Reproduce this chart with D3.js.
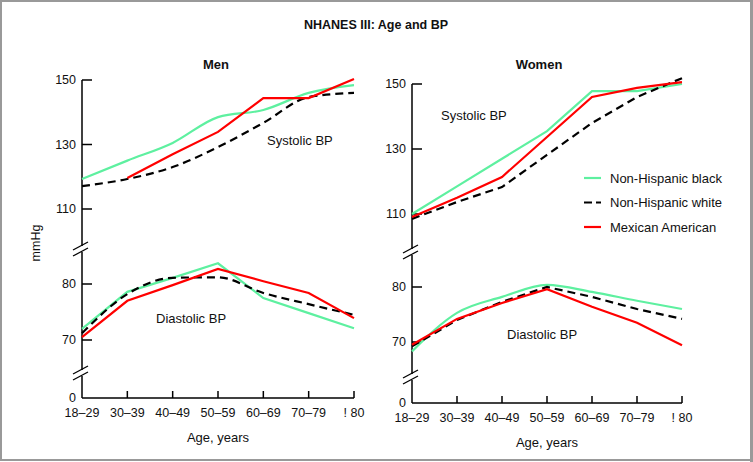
<!DOCTYPE html>
<html><head><meta charset="utf-8">
<script src="https://cdn.jsdelivr.net/npm/d3@7"></script>
<style>
html,body{margin:0;padding:0;background:#fff;}
svg{display:block;font-family:"Liberation Sans",Arial,sans-serif;}
</style></head>
<body>
<svg id="c" width="753" height="462"></svg>
<script>
// ---- data ----
const categories = ["18\u201329","30\u201339","40\u201349","50\u201359","60\u201369","70\u201379","! 80"];
const seriesNames = ["Non-Hispanic black","Non-Hispanic white","Mexican American"];

const menSysBlack = [119.3,125.0,130.5,138.5,140.7,146.0,148.4];
const menSysWhite = [117.1,119.3,123.0,129.2,136.7,144.7,146.0];
const menSysMex   = [null,119.6,127.0,133.9,144.4,144.4,150.3];
const menDiaBlack = [72.0,78.6,81.1,83.7,77.5,74.8,72.1];
const menDiaWhite = [71.2,78.2,81.1,81.2,78.4,76.4,74.5];
const menDiaMex   = [70.5,77.0,79.8,82.7,80.5,78.4,73.9];

const womenSysBlack = [110.0,118.5,127.0,135.5,147.8,147.8,150.0];
const womenSysWhite = [108.5,113.7,118.3,128.2,138.0,146.0,151.8];
const womenSysMex   = [109.1,115.0,121.4,133.7,146.0,148.8,150.6];
const womenDiaBlack = [68.3,75.3,78.2,80.4,79.1,77.5,76.0];
const womenDiaWhite = [69.2,74.0,77.3,80.0,78.2,76.0,74.2];
const womenDiaMex   = [69.5,74.2,77.1,79.6,76.4,73.5,69.4];

const sysTicks = [110,130,150];
const diaTicks = [70,80];

// ---- drawing ----
const svg = d3.select("#c");
const colors = ["#5ef0a0","#000000","#ff0000"];
const dashes = [null,"8,5",null];
const textColor = "#111";

svg.append("rect").attr("x",1).attr("y",1).attr("width",750).attr("height",459)
  .attr("fill","#fff").attr("stroke","#999").attr("stroke-width",2);
svg.append("rect").attr("x",750).attr("y",0).attr("width",3).attr("height",462).attr("fill","#999");

svg.append("text").attr("x",376).attr("y",29).attr("text-anchor","middle")
  .attr("font-weight","bold").attr("font-size",12.5).attr("fill",textColor).text("NHANES III: Age and BP");

svg.append("text").attr("transform","translate(40,243) rotate(-90)").attr("text-anchor","middle")
  .attr("font-size",12.5).attr("fill",textColor).text("mmHg");

const panels = [
  {title:"Men", x0:82, x1:354, sysTop:80, sysBot:209, diaTop:284, diaBot:340, zeroY:398,
   breaks:[249,373], titleX:216,
   sys:[menSysBlack,menSysWhite,menSysMex], dia:[menDiaBlack,menDiaWhite,menDiaMex],
   sysCurves:[d3.curveMonotoneX,d3.curveMonotoneX,d3.curveLinear],
   diaCurves:[d3.curveLinear,d3.curveMonotoneX,d3.curveLinear],
   sysLabel:[267,145], diaLabel:[156,323]},
  {title:"Women", x0:412, x1:682, sysTop:84, sysBot:214, diaTop:287, diaBot:342, zeroY:403,
   breaks:[252,377], titleX:539,
   sys:[womenSysBlack,womenSysWhite,womenSysMex], dia:[womenDiaBlack,womenDiaWhite,womenDiaMex],
   sysCurves:[d3.curveLinear,d3.curveLinear,d3.curveLinear],
   diaCurves:[d3.curveMonotoneX,d3.curveLinear,d3.curveLinear],
   sysLabel:[441,120], diaLabel:[507,339]}
];

panels.forEach(p => {
  const g = svg.append("g");
  const x = d3.scalePoint().domain(categories).range([p.x0,p.x1]);
  const ySys = d3.scaleLinear().domain([110,150]).range([p.sysBot,p.sysTop]);
  const yDia = d3.scaleLinear().domain([70,80]).range([p.diaBot,p.diaTop]);

  g.append("text").attr("x",p.titleX).attr("y",69).attr("text-anchor","middle")
    .attr("font-weight","bold").attr("font-size",13).attr("fill",textColor).text(p.title);

  // y axis line
  g.append("line").attr("x1",p.x0).attr("x2",p.x0).attr("y1",p.sysTop).attr("y2",p.zeroY)
    .attr("stroke","#000").attr("stroke-width",1.5);
  // axis breaks
  p.breaks.forEach(by => {
    g.append("rect").attr("x",p.x0-3).attr("y",by-3).attr("width",6).attr("height",6).attr("fill","#fff");
    [-3,3].forEach(d => {
      g.append("line").attr("x1",p.x0-9).attr("y1",by+d+4).attr("x2",p.x0+6).attr("y2",by+d-4)
        .attr("stroke","#000").attr("stroke-width",1.3);
    });
  });
  // y ticks
  const yt = g.append("g").attr("font-size",12.5).attr("fill",textColor);
  sysTicks.forEach(t => {
    g.append("line").attr("x1",p.x0).attr("x2",p.x0+10).attr("y1",ySys(t)).attr("y2",ySys(t)).attr("stroke","#000").attr("stroke-width",1.5);
    yt.append("text").attr("x",p.x0-6).attr("y",ySys(t)).attr("dy","0.35em").attr("text-anchor","end").text(t);
  });
  diaTicks.forEach(t => {
    g.append("line").attr("x1",p.x0).attr("x2",p.x0+10).attr("y1",yDia(t)).attr("y2",yDia(t)).attr("stroke","#000").attr("stroke-width",1.5);
    yt.append("text").attr("x",p.x0-6).attr("y",yDia(t)).attr("dy","0.35em").attr("text-anchor","end").text(t);
  });
  yt.append("text").attr("x",p.x0-6).attr("y",p.zeroY).attr("dy","0.35em").attr("text-anchor","end").text("0");

  // x axis
  g.append("line").attr("x1",p.x0).attr("x2",p.x1).attr("y1",p.zeroY).attr("y2",p.zeroY)
    .attr("stroke","#000").attr("stroke-width",1.5);
  categories.forEach((c,i) => {
    if (i>0) g.append("line").attr("x1",x(c)).attr("x2",x(c)).attr("y1",p.zeroY).attr("y2",p.zeroY-7)
      .attr("stroke","#000").attr("stroke-width",1.5);
    g.append("text").attr("x",x(c)).attr("y",p.zeroY+19).attr("text-anchor","middle")
      .attr("font-size",12.5).attr("fill",textColor).text(c);
  });
  g.append("text").attr("x",(p.x0+p.x1)/2).attr("y",p.zeroY+44).attr("text-anchor","middle")
    .attr("font-size",13).attr("fill",textColor).text("Age, years");

  // lines
  [[p.sys,ySys,p.sysCurves],[p.dia,yDia,p.diaCurves]].forEach(([sets,y,cv]) => {
    sets.forEach((vals,k) => {
      const line = d3.line().defined(d => d != null)
        .x((d,i) => x(categories[i])).y(d => y(d)).curve(cv[k]);
      g.append("path").datum(vals).attr("d",line).attr("fill","none")
        .attr("stroke",colors[k]).attr("stroke-width",2.2)
        .attr("stroke-dasharray",dashes[k]);
    });
  });

  g.append("text").attr("x",p.sysLabel[0]).attr("y",p.sysLabel[1]).attr("font-size",13).attr("fill",textColor).text("Systolic BP");
  g.append("text").attr("x",p.diaLabel[0]).attr("y",p.diaLabel[1]).attr("font-size",13).attr("fill",textColor).text("Diastolic BP");
});

// legend
const lg = svg.append("g");
seriesNames.forEach((n,i) => {
  const y = 178 + i*24.5;
  lg.append("line").attr("x1",584).attr("x2",601).attr("y1",y).attr("y2",y)
    .attr("stroke",colors[i]).attr("stroke-width",2.2).attr("stroke-dasharray",dashes[i] ? "8,4" : null);
  lg.append("text").attr("x",610).attr("y",y).attr("dy","0.35em").attr("font-size",13).attr("fill",textColor).text(n);
});
</script>
</body></html>
